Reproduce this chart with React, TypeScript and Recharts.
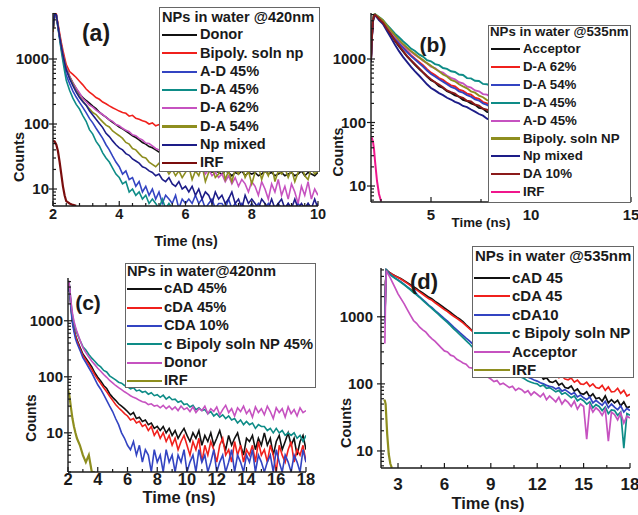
import { Fragment } from "react";
import { Line, LineChart, XAxis, YAxis } from "recharts";

const FONT = '"Liberation Sans", Arial, Helvetica, sans-serif';
const INK = "#1a1a1a";

// trace colours
const BLACK = "#111111";
const RED = "#f0201c";
const BLUE = "#3344c2";
const TEAL = "#0e8c87";
const MAGENTA = "#c652c0";
const OLIVE = "#8e8e1f";
const NAVY = "#1d1d88";
const BROWN = "#8b1a1a";
const DARKRED = "#7a0d0d";
const PINK = "#f0168c";

// ---------- panel (a): NPs in water @420nm ----------
const timeA = [
  2, 2.05, 2.1, 2.15, 2.2, 2.25, 2.3, 2.35,
  2.4, 2.5, 2.6, 2.7, 2.8, 2.9, 3,
  3.1, 3.2, 3.3, 3.4, 3.5, 3.6, 3.7, 3.8, 3.9, 4,
  4.1, 4.2, 4.3, 4.4, 4.5, 4.6, 4.7, 4.8, 4.9, 5,
  5.1, 5.2, 5.3, 5.4, 5.5, 5.6, 5.7, 5.8, 5.9, 6,
  6.1, 6.2, 6.3, 6.4, 6.5, 6.6, 6.7, 6.8, 6.9, 7,
  7.1, 7.2, 7.3, 7.4, 7.5, 7.6, 7.7, 7.8, 7.9, 8,
  8.1, 8.2, 8.3, 8.4, 8.5, 8.6, 8.7, 8.8, 8.9, 9,
  9.1, 9.2, 9.3, 9.4, 9.5, 9.6, 9.7, 9.8, 9.9, 10,
];
const donorA = [
  2800, 4800, 4700, 3250, 2250, 1650, 1200, 920, 730,
  540, 430, 350, 290, 255, 230,
  210, 188, 172, 152, 138, 128, 116, 106, 98, 90,
  84, 78, 72, 66, 62, 57, 52, 49, 45, 43,
  40, 37, 35, 33, 31, 29, 28, 26, 25, 24,
  22, 23, 21, 20, 22, 19, 20, 18, 19, 18,
  17, 19, 18, 16, 18, 17, 19, 16, 18, 17,
  18, 16, 17, 19, 17, 18, 16, 17, 18, 16,
  17, 18, 16, 17, 19, 16, 18, 17, 16, 18,
];
const bipolyA = [
  2600, 4700, 4900, 3500, 2500, 1800, 1350, 1050, 820,
  640, 580, 520, 455, 400, 345,
  310, 282, 255, 240, 218, 205, 190, 178, 168, 158,
  150, 146, 132, 136, 122, 118, 112, 108, 100, 104,
  94, 98, 88, 95, 86, 90, 83, 92, 85, 82,
  84, 92, 80, 87, 83, 78, 88, 81, 76, 84,
  79, 74, 82, 77, 71, 80, 75, 70, 78, 73,
  69, 76, 72, 67, 74, 70, 65, 73, 68, 71,
  66, 72, 64, 69, 63, 70, 65, 61, 68, 64,
];
const ad45A = [
  2900, 4900, 4700, 3100, 2100, 1450, 1030, 760, 560,
  420, 320, 260, 215, 180, 150,
  122, 104, 86, 72, 60, 48, 40, 32, 26, 22,
  17, 19, 14, 15, 11, 13, 9, 11, 8, 10,
  7, 9, 6, 8, 7, 6, 8, 5, 7, 6,
  7, 6, 8, 6, 7, 5, 6, 7, 5, 6,
  6, 5, 7, 5, 6, 5, 6, 5, 5, 6,
  5, 6, 5, 5, 6, 5, 5, 6, 5, 5,
  6, 5, 5, 6, 5, 5, 6, 5, 5, 6,
];
const da45A = [
  2800, 4800, 4600, 3000, 2000, 1330, 920, 650, 470,
  330, 250, 200, 170, 135, 110,
  82, 70, 54, 46, 36, 30, 26, 21, 17, 15,
  12, 13, 9, 10, 8, 9, 7, 8, 6, 7,
  6, 5, 7, 5, 6, 5,
];
const da62A = [
  2900, 4800, 4700, 3300, 2300, 1650, 1200, 920, 740,
  540, 430, 355, 300, 245, 220,
  196, 182, 164, 150, 140, 128, 116, 110, 98, 94,
  86, 80, 76, 68, 66, 60, 57, 51, 50, 46,
  42, 40, 36, 38, 33, 31, 29, 30, 26, 27,
  24, 22, 25, 19, 21, 17, 20, 16, 18, 15,
  17, 13, 16, 12, 15, 11, 14, 12, 9, 13,
  11, 8, 13, 10, 7, 12, 9, 14, 8, 11,
  7, 12, 9, 6, 11, 8, 13, 7, 10, 8,
];
const da54A = [
  2700, 4700, 4800, 3300, 2250, 1600, 1150, 900, 710,
  520, 410, 320, 265, 225, 195,
  172, 150, 140, 122, 108, 96, 90, 78, 72, 66,
  60, 52, 49, 42, 40, 35, 31, 30, 26, 24,
  22, 25, 19, 21, 17, 20, 16, 19, 15, 18,
  22, 14, 19, 16, 23, 13, 18, 21, 15, 17,
  24, 14, 19, 13, 20, 17, 23, 15, 19, 12,
  18, 22, 14, 20, 16, 24, 13, 19, 17, 21,
  15, 20, 13, 18, 23, 16, 14, 21, 17, 19,
];
const npMixA = [
  3000, 4900, 4800, 3200, 2200, 1580, 1150, 880, 680,
  500, 390, 310, 255, 220, 195,
  160, 138, 118, 102, 88, 72, 64, 55, 48, 43,
  40, 35, 33, 29, 27, 25, 22, 21, 19, 18,
  16, 17, 14, 13, 15, 12, 11, 13, 10, 11,
  9, 11, 8, 10, 7, 9, 8, 6, 9, 7,
  8, 6, 7, 9, 6, 7, 5, 8, 6, 7,
  6, 5, 7, 6, 5, 7, 5, 6, 7, 5,
  6, 5, 7, 5, 6, 5, 6, 5, 7, 5,
];
const irfTimeA = [2, 2.05, 2.1, 2.15, 2.2, 2.25, 2.3, 2.35, 2.4, 2.5, 2.6, 2.7];
const irfA = [55, 54, 48, 38, 26, 17, 11, 8, 6.5, 6, 5.7, 5.5];

// ---------- panel (b): NPs in water @535nm ----------
const timeB = [
  2, 2.05, 2.1, 2.15, 2.2, 2.3, 2.4, 2.5,
  2.6, 2.8, 3, 3.2, 3.4, 3.6, 3.8, 4, 4.2, 4.4, 4.6, 4.8, 5, 5.2, 5.4, 5.6,
  5.8, 6, 6.2, 6.4, 6.6, 6.8, 7, 7.2, 7.4, 7.6, 7.8, 8,
  8.5, 9, 10, 11, 12, 13, 14, 15,
];
const acceptorB = [
  950, 2300, 4000, 4750, 4950, 4650, 4300, 3950,
  3700, 2950, 2400, 1920, 1580, 1320, 1100, 940, 810, 700, 610, 530, 465, 430,
  372, 350, 310, 292, 268, 255, 228, 218, 200, 190, 170, 165, 147, 142,
  122, 106, 80, 64, 52, 42, 34, 28,
];
const da62B = [
  1000, 2400, 4100, 4800, 5000, 4700, 4400, 4100,
  3850, 3150, 2600, 2150, 1800, 1550, 1330, 1150, 1010, 900, 800, 690, 610, 560,
  500, 470, 420, 385, 370, 330, 315, 285, 275, 245, 235, 210, 200, 185,
  160, 140, 110, 88, 70, 58, 48, 40,
];
const da54B = [
  1000, 2400, 4100, 4800, 5000, 4700, 4400, 4100,
  3800, 3100, 2550, 2100, 1760, 1500, 1290, 1110, 980, 860, 760, 660, 580, 530,
  480, 440, 400, 365, 345, 310, 295, 270, 255, 232, 222, 200, 190, 175,
  150, 130, 100, 80, 64, 52, 43, 36,
];
const da45B = [
  1100, 2600, 4300, 4900, 5100, 4850, 4600, 4350,
  4100, 3450, 2950, 2500, 2200, 1900, 1680, 1460, 1340, 1180, 1090, 960, 920, 830,
  800, 720, 700, 640, 625, 570, 560, 500, 495, 455, 450, 405, 400, 370,
  330, 290, 235, 185, 150, 120, 98, 80,
];
const ad45B = [
  1000, 2400, 4200, 4900, 5000, 4750, 4450, 4150,
  3900, 3250, 2700, 2250, 1950, 1650, 1460, 1300, 1160, 1060, 940, 860, 760, 720,
  640, 610, 545, 505, 480, 430, 415, 370, 355, 320, 310, 280, 275, 250,
  220, 190, 150, 120, 95, 78, 65, 55,
];
const bipolyB = [
  1050, 2500, 4300, 5000, 5050, 4800, 4550, 4300,
  4050, 3350, 2800, 2350, 2000, 1720, 1520, 1340, 1200, 1060, 960, 860, 780, 700,
  640, 570, 530, 470, 445, 400, 370, 345, 310, 295, 265, 250, 225, 215,
  185, 165, 125, 100, 80, 65, 54, 45,
];
const npMixB = [
  900, 2200, 3900, 4700, 4900, 4500, 4100, 3800,
  3550, 2750, 2150, 1680, 1330, 1080, 900, 750, 640, 550, 470, 400, 350, 320,
  290, 270, 245, 230, 212, 200, 182, 175, 160, 148, 136, 128, 115, 108,
  92, 80, 60, 47, 38, 31, 25, 20,
];
const da10B = [
  950, 2300, 4000, 4800, 4950, 4650, 4300, 4000,
  3750, 3000, 2450, 1950, 1620, 1350, 1120, 960, 830, 720, 620, 540, 480, 430,
  395, 360, 320, 300, 285, 255, 245, 220, 215, 192, 185, 165, 160, 148,
  128, 112, 85, 68, 55, 45, 37, 30,
];
const irfTimeB = [2, 2.05, 2.1, 2.15, 2.2, 2.3, 2.4, 2.5];
const irfB = [55, 56, 50, 38, 25, 12, 7.5, 5.8];

// ---------- panel (c): NPs in water@420nm ----------
const timeC = [
  2, 2.05, 2.1, 2.15, 2.2, 2.3, 2.4, 2.5, 2.6,
  2.8, 3, 3.2, 3.4, 3.6, 3.8, 4,
  4.2, 4.4, 4.6, 4.8, 5, 5.2, 5.4, 5.6, 5.8, 6, 6.2, 6.4, 6.6, 6.8, 7,
  7.2, 7.4, 7.6, 7.8, 8, 8.2, 8.4, 8.6, 8.8, 9, 9.2, 9.4, 9.6, 9.8, 10,
  10.2, 10.4, 10.6, 10.8, 11, 11.2, 11.4, 11.6, 11.8, 12, 12.2, 12.4, 12.6, 12.8, 13,
  13.2, 13.4, 13.6, 13.8, 14, 14.2, 14.4, 14.6, 14.8, 15, 15.2, 15.4, 15.6, 15.8, 16,
  16.2, 16.4, 16.6, 16.8, 17, 17.2, 17.4, 17.6, 17.8, 18,
];
const cad45C = [
  3500, 5000, 3900, 2700, 1800, 1000, 720, 560, 460,
  340, 255, 215, 180, 150, 118, 98,
  84, 70, 62, 50, 43, 38, 33, 30, 27, 24, 21, 23, 18, 19, 16,
  17, 14, 15, 12, 13, 11, 13, 10, 12, 9, 11, 8, 10, 12, 9,
  7, 10, 8, 11, 6, 9, 7, 10, 6, 8, 11, 7, 5, 9, 6,
  8, 10, 6, 4, 8, 7, 9, 5, 8, 6, 10, 6, 8, 4, 7,
  9, 5, 7, 10, 6, 8, 4, 7, 9, 5,
];
const cda45C = [
  3400, 4900, 3800, 2600, 1750, 980, 700, 540, 440,
  320, 240, 200, 165, 135, 108, 90,
  76, 64, 54, 45, 38, 32, 28, 25, 22, 20, 17, 18, 15, 16, 13,
  14, 11, 13, 9, 11, 8, 10, 7, 9, 6, 8, 5, 7, 9, 6,
  4, 7, 5, 8, 3, 6, 4, 7, 5, 3, 6, 8, 4, 5, 3,
  7, 4, 6, 3, 5, 4, 6, 3, 7, 4, 5, 3, 6, 4, 2,
  6, 4, 3, 5, 7, 3, 5, 4, 6, 3,
];
const cda10C = [
  3300, 4800, 3600, 2400, 1600, 900, 640, 480, 400,
  300, 220, 180, 145, 118, 92, 72,
  60, 48, 38, 30, 24, 18, 14, 10, 8, 6, 5, 7, 4, 6, 3,
  5, 4, 2, 5, 3, 4, 2, 5, 3, 4, 2, 4, 3, 5, 2,
  3, 4, 2, 5, 3, 4, 2, 3, 5, 2, 3, 4, 2, 3, 5,
  2, 4, 3, 2, 4, 3, 5, 2, 4, 3, 2, 3, 4, 2, 5,
  3, 2, 4, 3, 2, 4, 3, 2, 5, 3,
];
const bipolyC = [
  3600, 5100, 4200, 3000, 2100, 1250, 900, 720, 600,
  450, 345, 300, 250, 215, 190, 165,
  150, 130, 122, 104, 96, 88, 80, 77, 70, 66, 61, 64, 56, 58, 53,
  55, 49, 52, 46, 48, 43, 47, 40, 44, 39, 40, 35, 37, 32, 33,
  29, 31, 26, 28, 25, 26, 22, 24, 20, 22, 19, 21, 18, 20, 17,
  18, 15, 17, 14, 16, 14, 15, 12, 14, 13, 13, 11, 12, 10, 12,
  10, 11, 9, 10, 9, 10, 8, 9, 7, 9,
];
const donorC = [
  3800, 5200, 4300, 3100, 2200, 1350, 980, 780, 640,
  460, 330, 270, 225, 190, 165, 142,
  126, 110, 98, 86, 78, 70, 64, 59, 54, 50, 46, 43, 41, 38, 36,
  35, 32, 33, 30, 31, 28, 31, 27, 30, 26, 29, 25, 30, 26, 28,
  24, 29, 23, 27, 25, 30, 22, 27, 24, 29, 21, 26, 31, 23, 27,
  20, 28, 24, 30, 22, 26, 19, 29, 23, 27, 21, 30, 24, 18, 28,
  23, 27, 19, 29, 22, 26, 20, 28, 23, 25,
];
const irfTimeC = [2, 2.1, 2.2, 2.3, 2.4, 2.5, 2.6, 2.8, 3, 3.2, 3.4, 3.6, 3.8];
const irfC = [58, 45, 28, 18, 13, 10, 8, 6, 4, 3, 4, 2, 2];

// ---------- panel (d): NPs in water @535nm ----------
const timeD = [
  2.15, 2.2, 2.25, 2.3, 2.4, 2.5, 2.6, 2.8,
  3, 3.2, 3.4, 3.6, 3.8, 4, 4.2, 4.4, 4.6, 4.8, 5, 5.2, 5.4, 5.6, 5.8, 6,
  6.2, 6.4, 6.6, 6.8, 7, 7.2, 7.4, 7.6, 7.8, 8, 8.2, 8.4, 8.6, 8.8, 9,
  9.2, 9.4, 9.6, 9.8, 10, 10.2, 10.4, 10.6, 10.8, 11, 11.2, 11.4, 11.6, 11.8, 12,
  12.2, 12.4, 12.6, 12.8, 13, 13.2, 13.4, 13.6, 13.8, 14, 14.2, 14.4, 14.6, 14.8, 15,
  15.2, 15.4, 15.6, 15.8, 16, 16.2, 16.4, 16.6, 16.8, 17, 17.2, 17.4, 17.6, 17.8, 18,
];
const cad45D = [
  900, 3400, 5000, 4900, 4650, 4500, 4350, 4100,
  3900, 3680, 3450, 3230, 3000, 2800, 2620, 2420, 2260, 2100,
  1950, 1840, 1700, 1580, 1460, 1350, 1260, 1160, 1070, 990,
  920, 850, 760, 690, 620, 560, 530, 480, 445, 410,
  380, 350, 330, 300, 285, 270, 245, 235, 215, 205,
  195, 178, 165, 152, 140, 130, 138, 118, 124, 108,
  105, 112, 96, 102, 88, 86, 93, 78, 84, 72,
  70, 76, 64, 71, 60, 62, 55, 66, 52, 58,
  52, 57, 47, 54, 44, 46,
];
const cda45D = [
  850, 3300, 4950, 4850, 4600, 4450, 4300, 4050,
  3850, 3620, 3380, 3150, 2920, 2700, 2520, 2330, 2170, 2000,
  1850, 1760, 1620, 1500, 1390, 1280, 1200, 1100, 1020, 950,
  880, 810, 740, 670, 610, 560, 530, 490, 455, 425,
  400, 370, 345, 315, 295, 280, 262, 245, 230, 215,
  205, 192, 185, 172, 168, 160, 152, 148, 140, 136,
  132, 140, 124, 130, 118, 115, 122, 106, 114, 100,
  98, 106, 92, 100, 88, 86, 95, 80, 90, 76,
  77, 86, 72, 80, 66, 70,
];
const cda10D = [
  800, 3200, 4950, 4800, 4500, 4300, 4100, 3800,
  3550, 3300, 3050, 2800, 2580, 2350, 2170, 1980, 1800, 1640,
  1480, 1370, 1240, 1130, 1030, 940, 860, 780, 700, 640,
  580, 530, 480, 440, 400, 370, 345, 315, 290, 268,
  250, 232, 215, 200, 188, 180, 170, 160, 152, 146,
  140, 132, 126, 120, 114, 110, 104, 100, 95, 92,
  90, 84, 88, 78, 82, 76, 70, 74, 64, 68,
  62, 58, 64, 52, 57, 52, 48, 55, 44, 50,
  45, 41, 47, 38, 43, 40,
];
const bipolyD = [
  800, 3200, 4950, 4800, 4450, 4250, 4050, 3750,
  3500, 3250, 3000, 2760, 2530, 2300, 2120, 1940, 1760, 1600,
  1450, 1330, 1210, 1100, 990, 900, 820, 740, 660, 600,
  540, 490, 440, 400, 355, 320, 298, 270, 250, 232,
  220, 200, 190, 175, 168, 160, 150, 142, 135, 128,
  125, 118, 110, 106, 102, 100, 92, 96, 86, 88,
  82, 76, 80, 70, 74, 68, 62, 66, 56, 60,
  56, 50, 54, 44, 49, 46, 40, 45, 36, 41,
  40, 34, 38, 11, 36, 34,
];
const acceptorD = [
  400, 2600, 4900, 4600, 4200, 3800, 3400, 2750,
  2200, 1850, 1560, 1280, 1060, 880, 800, 700, 640, 590,
  520, 470, 430, 385, 345, 310, 300, 268, 258, 232,
  220, 205, 196, 175, 172, 160, 148, 142, 128, 126,
  118, 108, 112, 98, 102, 95, 88, 92, 80, 86,
  82, 74, 79, 68, 76, 70, 64, 72, 58, 66,
  60, 54, 63, 50, 58, 53, 46, 55, 42, 50,
  46, 15, 48, 38, 44, 40, 34, 42, 14, 38,
  35, 29, 37, 26, 33, 31,
];
const irfTimeD = [2.1, 2.15, 2.2, 2.25, 2.3, 2.4, 2.5, 2.6];
const irfD = [58, 56, 50, 30, 18, 9, 6.5, 5.6];

// ---------- axis ticks ----------
const yTicksA = [6, 7, 8, 9, 10, 20, 30, 40, 50, 60, 70, 80, 90, 100, 200, 300, 400, 500, 600, 700, 800, 900, 1000, 2000, 3000, 4000, 5000];
const yTicksC = [2, 3, 4, 5, ...yTicksA];
const yMajor = [10, 100, 1000];
const xTicksA = [2, 2.4, 2.8, 3.2, 3.6, 4, 4.4, 4.8, 5.2, 5.6, 6, 6.4, 6.8, 7.2, 7.6, 8, 8.4, 8.8, 9.2, 9.6, 10];
const xMajorA = [2, 4, 6, 8, 10];
const xTicksB = [2.5, 5, 7.5, 10, 12.5, 15];
const xMajorB = [5, 10, 15];
const xTicksC = [2, 3, 4, 5, 6, 7, 8, 9, 10, 11, 12, 13, 14, 15, 16, 17, 18];
const xMajorC = [2, 4, 6, 8, 10, 12, 14, 16, 18];
const xTicksD = [3, 4.5, 6, 7.5, 9, 10.5, 12, 13.5, 15, 16.5, 18];
const xMajorD = [3, 6, 9, 12, 15, 18];

type Trace = { name: string; color: string; time: number[]; values: number[]; width?: number };

const toRows = (time: number[], values: number[]) => values.map((v, i) => ({ t: time[i], v }));

const tracesA: Trace[] = [
  { name: "Donor", color: BLACK, time: timeA, values: donorA },
  { name: "Bipoly. soln np", color: RED, time: timeA, values: bipolyA },
  { name: "A-D 45%", color: BLUE, time: timeA, values: ad45A },
  { name: "D-A 45%", color: TEAL, time: timeA, values: da45A },
  { name: "D-A 62%", color: MAGENTA, time: timeA, values: da62A },
  { name: "D-A 54%", color: OLIVE, time: timeA, values: da54A },
  { name: "Np mixed", color: NAVY, time: timeA, values: npMixA },
  { name: "IRF", color: DARKRED, time: irfTimeA, values: irfA, width: 2.2 },
];
const tracesB: Trace[] = [
  { name: "Acceptor", color: BLACK, time: timeB, values: acceptorB },
  { name: "D-A 62%", color: RED, time: timeB, values: da62B },
  { name: "D-A 54%", color: BLUE, time: timeB, values: da54B },
  { name: "D-A 45%", color: TEAL, time: timeB, values: da45B },
  { name: "A-D 45%", color: MAGENTA, time: timeB, values: ad45B },
  { name: "Bipoly. soln NP", color: OLIVE, time: timeB, values: bipolyB },
  { name: "Np mixed", color: NAVY, time: timeB, values: npMixB },
  { name: "DA 10%", color: BROWN, time: timeB, values: da10B },
  { name: "IRF", color: PINK, time: irfTimeB, values: irfB, width: 2 },
];
const tracesC: Trace[] = [
  { name: "cAD 45%", color: BLACK, time: timeC, values: cad45C },
  { name: "cDA 45%", color: RED, time: timeC, values: cda45C },
  { name: "CDA 10%", color: BLUE, time: timeC, values: cda10C },
  { name: "c Bipoly soln NP 45%", color: TEAL, time: timeC, values: bipolyC },
  { name: "Donor", color: MAGENTA, time: timeC, values: donorC },
  { name: "IRF", color: OLIVE, time: irfTimeC, values: irfC, width: 2.2 },
];
const tracesD: Trace[] = [
  { name: "cAD 45", color: BLACK, time: timeD, values: cad45D },
  { name: "cDA 45", color: RED, time: timeD, values: cda45D },
  { name: "cDA10", color: BLUE, time: timeD, values: cda10D },
  { name: "c Bipoly soln NP", color: TEAL, time: timeD, values: bipolyD },
  { name: "Acceptor", color: MAGENTA, time: timeD, values: acceptorD },
  { name: "IRF", color: OLIVE, time: irfTimeD, values: irfD, width: 2.2 },
];

// x ticks point into the plot; only majors get a number
const XTick = ({ x, y, payload, major, font, dy }: any) => {
  const isMajor = major.includes(payload.value);
  return (
    <g>
      <line x1={x} x2={x} y1={y} y2={y - (isMajor ? 5 : 3)} stroke={INK} strokeWidth={1.2} />
      {isMajor && (
        <text x={x} y={y + dy} textAnchor="middle" fontFamily={FONT} fontWeight="bold" fontSize={font} fill={INK}>
          {payload.value}
        </text>
      )}
    </g>
  );
};

const YTick = ({ x, y, payload, font, gap }: any) => {
  const isMajor = yMajor.includes(payload.value);
  return (
    <g>
      <line x1={isMajor ? x - 4 : x} x2={x + (isMajor ? 4 : 3)} y1={y} y2={y} stroke={INK} strokeWidth={1.2} />
      {isMajor && (
        <text x={x - gap} y={y} dy="0.36em" textAnchor="end" fontFamily={FONT} fontWeight="bold" fontSize={font} fill={INK}>
          {payload.value}
        </text>
      )}
    </g>
  );
};

type PanelProps = {
  left: number;
  top: number;
  width: number;
  height: number;
  margin: { top: number; right: number; left: number; bottom: number };
  yWidth: number;
  xHeight: number;
  xDomain: [number, number];
  xTicks: number[];
  xMajor: number[];
  xFont: number;
  xDy: number;
  yDomain: [number, number];
  yTicks: number[];
  yFont: number;
  yGap: number;
  traces: Trace[];
  lineWidth: number;
};

const DecayPanel = (p: PanelProps) => (
  <div style={{ position: "absolute", left: p.left, top: p.top }}>
    <LineChart width={p.width} height={p.height} margin={p.margin}>
      <XAxis
        dataKey="t"
        type="number"
        domain={p.xDomain}
        allowDataOverflow
        ticks={p.xTicks}
        interval={0}
        height={p.xHeight}
        tickSize={0}
        tickMargin={0}
        tickLine={false}
        axisLine={{ stroke: INK, strokeWidth: 1.4 }}
        tick={(props: any) => <XTick {...props} major={p.xMajor} font={p.xFont} dy={p.xDy} />}
      />
      <YAxis
        type="number"
        scale="log"
        domain={p.yDomain}
        allowDataOverflow
        ticks={p.yTicks}
        interval={0}
        width={p.yWidth}
        tickSize={0}
        tickMargin={0}
        tickLine={false}
        axisLine={{ stroke: INK, strokeWidth: 1.4 }}
        tick={(props: any) => <YTick {...props} font={p.yFont} gap={p.yGap} />}
      />
      {p.traces.map((tr) => (
        <Line
          key={tr.name}
          data={toRows(tr.time, tr.values)}
          dataKey="v"
          type="linear"
          stroke={tr.color}
          strokeWidth={tr.width ?? p.lineWidth}
          dot={false}
          activeDot={false}
          isAnimationActive={false}
        />
      ))}
    </LineChart>
  </div>
);

const textAt = (x: number, cy: number, size: number) => ({
  position: "absolute" as const,
  left: x,
  top: cy - size * 0.6,
  fontSize: size,
  lineHeight: `${size * 1.2}px`,
  fontWeight: 700,
  whiteSpace: "nowrap" as const,
  color: INK,
});

type LegendProps = {
  box: [number, number, number, number];
  title: string;
  titleX: number;
  titleY: number;
  firstY: number;
  step: number;
  lineX: [number, number];
  textX: number;
  font: number;
  traces: Trace[];
};

// framed legend drawn over the curves, as in the original figure
const PanelLegend = ({ box, title, titleX, titleY, firstY, step, lineX, textX, font, traces }: LegendProps) => (
  <>
    <div
      style={{
        position: "absolute",
        left: box[0],
        top: box[1],
        width: box[2] - box[0],
        height: box[3] - box[1],
        border: "1px solid #666",
        background: "#fff",
        boxSizing: "border-box",
      }}
    />
    <div style={textAt(titleX, titleY, font)}>{title}</div>
    {traces.map((tr, k) => {
      const cy = firstY + k * step;
      return (
        <Fragment key={tr.name}>
          <div
            style={{
              position: "absolute",
              left: lineX[0],
              top: cy - 1.1,
              width: lineX[1] - lineX[0],
              height: 2.2,
              background: tr.color,
            }}
          />
          <div style={textAt(textX, cy, font)}>{tr.name}</div>
        </Fragment>
      );
    })}
  </>
);

const Caption = ({ text, cx, cy, size, vertical }: { text: string; cx: number; cy: number; size: number; vertical?: boolean }) => (
  <div
    style={{
      position: "absolute",
      left: cx,
      top: cy,
      transform: `translate(-50%, -50%)${vertical ? " rotate(-90deg)" : ""}`,
      fontSize: size,
      fontWeight: 700,
      lineHeight: 1,
      whiteSpace: "nowrap",
      color: INK,
    }}
  >
    {text}
  </div>
);

const App = () => (
  <div
    style={{
      position: "absolute",
      left: 0,
      top: 0,
      width: 638,
      height: 515,
      overflow: "hidden",
      background: "#fff",
      fontFamily: FONT,
    }}
  >
    {/* (a) */}
    <DecayPanel
      left={0}
      top={0}
      width={330}
      height={230}
      margin={{ top: 13, right: 12, left: 0, bottom: 0 }}
      yWidth={53}
      xHeight={24}
      xDomain={[2, 10]}
      xTicks={xTicksA}
      xMajor={xMajorA}
      xFont={14.5}
      xDy={12.7}
      yDomain={[5.48, 5100]}
      yTicks={yTicksA}
      yFont={15}
      yGap={4}
      traces={tracesA}
      lineWidth={1.6}
    />
    {/* (b) */}
    <DecayPanel
      left={318}
      top={0}
      width={320}
      height={230}
      margin={{ top: 13, right: 7, left: 0, bottom: 0 }}
      yWidth={53}
      xHeight={28}
      xDomain={[2, 15]}
      xTicks={xTicksB}
      xMajor={xMajorB}
      xFont={15}
      xDy={18.4}
      yDomain={[5.6, 5300]}
      yTicks={yTicksA}
      yFont={15}
      yGap={5}
      traces={tracesB}
      lineWidth={1.9}
    />
    {/* (c) */}
    <DecayPanel
      left={0}
      top={255}
      width={320}
      height={260}
      margin={{ top: 23, right: 14, left: 0, bottom: 0 }}
      yWidth={68}
      xHeight={43}
      xDomain={[2, 18]}
      xTicks={xTicksC}
      xMajor={xMajorC}
      xFont={16.5}
      xDy={12.5}
      yDomain={[2, 5800]}
      yTicks={yTicksC}
      yFont={15}
      yGap={5}
      traces={tracesC}
      lineWidth={1.6}
    />
    {/* (d) */}
    <DecayPanel
      left={318}
      top={255}
      width={320}
      height={260}
      margin={{ top: 13, right: 8, left: 0, bottom: 0 }}
      yWidth={63}
      xHeight={47}
      xDomain={[1.9, 18]}
      xTicks={xTicksD}
      xMajor={xMajorD}
      xFont={17}
      xDy={22}
      yDomain={[5.57, 5340]}
      yTicks={yTicksA}
      yFont={15}
      yGap={8}
      traces={tracesD}
      lineWidth={1.7}
    />

    <PanelLegend
      box={[159, 7, 320, 172]}
      title="NPs in water @420nm"
      titleX={162}
      titleY={17.5}
      firstY={35}
      step={18.3}
      lineX={[162, 197]}
      textX={200}
      font={14.6}
      traces={tracesA}
    />
    <PanelLegend
      box={[488, 25, 631, 203]}
      title="NPs in water @535nm"
      titleX={490}
      titleY={32}
      firstY={49}
      step={17.9}
      lineX={[491, 520]}
      textX={523}
      font={13.3}
      traces={tracesB}
    />
    <PanelLegend
      box={[125, 263, 316, 388]}
      title="NPs in water@420nm"
      titleX={127}
      titleY={272}
      firstY={289.3}
      step={18.35}
      lineX={[127, 162]}
      textX={164}
      font={14.7}
      traces={tracesC}
    />
    <PanelLegend
      box={[472, 246, 634, 378]}
      title="NPs in water @535nm"
      titleX={475}
      titleY={256}
      firstY={278}
      step={18.4}
      lineX={[474, 510]}
      textX={512}
      font={15}
      traces={tracesD}
    />

    {/* panel letters */}
    <Caption text="(a)" cx={96} cy={33} size={23} />
    <Caption text="(b)" cx={433} cy={44} size={21} />
    <Caption text="(c)" cx={88} cy={302} size={21} />
    <Caption text="(d)" cx={424} cy={282} size={22} />

    {/* axis titles */}
    <Caption text="Counts" cx={19} cy={157} size={14.5} vertical />
    <Caption text="Time (ns)" cx={186} cy={241} size={14.4} />
    <Caption text="Counts" cx={338} cy={152} size={14.2} vertical />
    <Caption text="Time (ns)" cx={481} cy={223} size={13.3} />
    <Caption text="Counts" cx={32} cy={418} size={13.8} vertical />
    <Caption text="Time (ns)" cx={179} cy={497} size={16.5} />
    <Caption text="Counts" cx={346} cy={423} size={14.5} vertical />
    <Caption text="Time (ns)" cx={488} cy={503} size={16.5} />
  </div>
);

export default App;
